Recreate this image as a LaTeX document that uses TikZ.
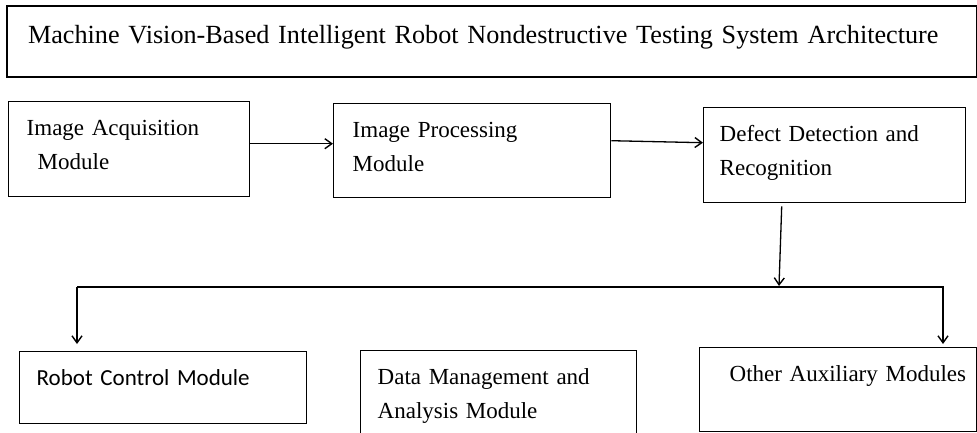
\documentclass[tikz,border=0pt]{standalone}
\usepackage{fontspec}
\setmainfont{Liberation Serif}
\newfontfamily\carlito{Carlito}
\usetikzlibrary{arrows.meta}

\begin{document}
\begin{tikzpicture}[x=1pt, y=-1pt, >={Straight Barb[length=7pt,width=10pt,line width=1.4pt]},
    block/.style={draw, rectangle, line width=1.4pt, anchor=north west, align=left,
        inner ysep=0pt, text height=34pt, font=\fontsize{23}{33.5}\selectfont},
    link/.style={->, line width=1.3pt}]
    \useasboundingbox (0,0) rectangle (977,432);
    \clip (0,0) rectangle (977,432);

    \node[block, line width=2pt, inner xsep=21pt, text width=928pt, text height=37pt, text depth=34pt,
        font=\fontsize{26.2}{32}\selectfont] (title) at (6,5)
        {Machine Vision-Based Intelligent Robot Nondestructive Testing System Architecture};

    \node[block, inner xsep=18pt, text width=205pt, text depth=61pt] (acq) at (8,101) {Image Acquisition\\\hspace*{11pt}Module};
    \node[block, inner xsep=19pt, text width=239pt, text depth=60pt] (proc) at (333,103) {Image Processing\\Module};
    \node[block, inner xsep=16pt, text width=230pt, text depth=61pt] (defect) at (703,107) {Defect Detection and\\Recognition};

    \node[block, inner xsep=17pt, text width=253pt, text depth=38pt,
        font=\carlito\fontsize{23}{33.5}\selectfont] (robot) at (19,351) {Robot Control Module};
    \node[block, inner xsep=17pt, text width=242pt, text depth=57pt] (data) at (360,350) {Data Management and\\Analysis Module};
    \node[block, inner xsep=10pt, text width=257pt, text depth=50pt] (other) at (699,347) {\hspace*{20pt}Other Auxiliary Modules};

    % bus below the detection block
    \coordinate (split) at (779,286);
    \coordinate (busL) at (77,287);
    \coordinate (busR) at (943,287);

    \draw[link] ([yshift=5.5pt]acq.east) -- ([yshift=7pt]proc.west);
    \draw[link] ([yshift=10pt]proc.east) -- ([yshift=12.5pt]defect.west);
    \draw[link] ([xshift=-53pt,yshift=-3pt]defect.south) -- (split);
    \draw[link, shorten >=3pt] (busL) -- (busR) -- (busR |- other.north);
    \draw[link, shorten >=7pt] (busL) -- (busL |- robot.north);
\end{tikzpicture}
\end{document}
